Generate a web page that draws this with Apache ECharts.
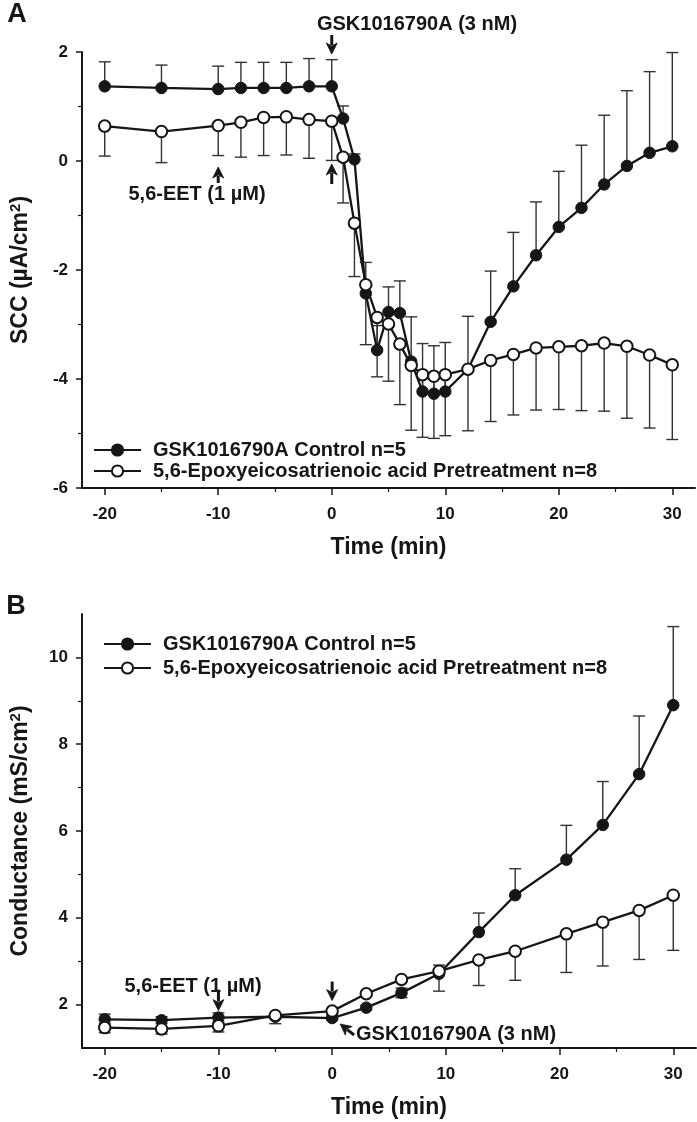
<!DOCTYPE html>
<html><head><meta charset="utf-8">
<script src="https://cdn.jsdelivr.net/npm/echarts@6/dist/echarts.min.js"></script>
<style>html,body{margin:0;padding:0;background:#fff}#c{width:697px;height:1122px}</style>
</head><body><div id="c"></div>
<script>
// ---------- Data ----------
const seriesNames = ['GSK1016790A Control n=5', '5,6-Epoxyeicosatrienoic acid Pretreatment n=8'];

// Panel A: short-circuit current
const timeA = [-20,-15,-10,-8,-6,-4,-2,0,1,2,3,4,5,6,7,8,9,10,12,14,16,18,20,22,24,26,28,30];
const sccControl = [1.37,1.34,1.32,1.34,1.34,1.34,1.37,1.37,0.78,0.03,-2.43,-3.47,-2.77,-2.79,-3.68,-4.23,-4.27,-4.23,-3.82,-2.95,-2.30,-1.73,-1.21,-0.86,-0.43,-0.09,0.15,0.27];
const sccControlErr = [0.45,0.42,0.42,0.47,0.47,0.47,0.51,0.49,0.23,0.10,0.57,0.45,0.46,0.59,0.82,0.88,0.88,0.90,0.97,0.93,0.99,0.98,1.02,1.15,1.27,1.38,1.49,1.72];
const sccEet = [0.64,0.54,0.65,0.71,0.80,0.81,0.76,0.73,0.07,-1.14,-2.27,-2.87,-2.99,-3.36,-3.75,-3.92,-3.95,-3.92,-3.82,-3.66,-3.55,-3.43,-3.41,-3.39,-3.34,-3.40,-3.56,-3.74];
const sccEetErr = [0.55,0.57,0.55,0.64,0.70,0.70,0.71,0.72,0.84,0.98,1.10,1.09,1.05,1.11,1.19,1.15,1.14,1.12,1.13,1.12,1.11,1.14,1.15,1.19,1.25,1.32,1.34,1.37];

// Panel B: conductance
const timeB = [-20,-15,-10,-5,0,3,6.1,9.4,12.9,16.1,20.6,23.8,27,30];
const gControl = [1.66,1.64,1.70,1.72,1.69,1.93,2.27,2.71,3.67,4.52,5.34,6.14,7.31,8.90];
const gControlErrUp = [0.12,0.08,0.11,0.05,0.05,0.05,0.11,0.20,0.44,0.61,0.79,1.00,1.34,1.81];
const gControlErrDown = [0.10,0.08,0.10,0.05,0.05,0.05,0.11,0,0,0,0,0,0,0];
const gEet = [1.47,1.44,1.51,1.75,1.85,2.25,2.58,2.77,3.03,3.23,3.63,3.90,4.17,4.52];
const gEetErrDown = [0.12,0.12,0.14,0.19,0.05,0.05,0.05,0.46,0.59,0.67,0.89,1.01,1.13,1.27];

// Axis ticks
const xTicks = [-20,-10,0,10,20,30];
const xMinorTicks = [-15,-5,5,15,25];
const yTicksA = [-6,-4,-2,0,2];
const yMinorTicksA = [-5,-3,-1,1];
const yTicksB = [2,4,6,8,10];
const yMinorTicksB = [3,5,7,9];

// ---------- Styles ----------
const INK = '#161616';
const FONT = "'Liberation Sans', Arial, Helvetica, sans-serif";
const NARROW = "'Liberation Sans Narrow', 'Liberation Sans', Arial, sans-serif";

const chart = echarts.init(document.getElementById('c'), null, {renderer: 'canvas'});

function xMajor(grid) {
  return {
    type: 'value', gridIndex: grid, min: -22, max: 32, position: 'bottom',
    name: 'Time (min)', nameLocation: 'middle', nameGap: 48,
    nameTextStyle: {fontFamily: FONT, fontWeight: 'bold', fontSize: 23, color: INK},
    axisLine: {show: true, onZero: false, lineStyle: {color: INK, width: 2}},
    axisTick: {show: true, customValues: xTicks, length: 7, lineStyle: {color: INK, width: 1.5}},
    axisLabel: {show: true, customValues: xTicks, margin: 18, fontFamily: NARROW, fontWeight: 'bold', fontSize: 17, color: INK},
    splitLine: {show: false}
  };
}
function xMinor(grid) {
  return {
    type: 'value', gridIndex: grid, min: -22, max: 32, position: 'bottom', offset: 0,
    axisLine: {show: false, onZero: false},
    axisTick: {show: true, customValues: xMinorTicks, length: 4, lineStyle: {color: INK, width: 1.2}},
    axisLabel: {show: false}, splitLine: {show: false}
  };
}
function yMajor(grid, min, max, ticks, name) {
  return {
    type: 'value', gridIndex: grid, min: min, max: max, position: 'left',
    name: name, nameLocation: 'middle', nameGap: 49, nameRotate: 90,
    nameTextStyle: {
      fontFamily: FONT, fontWeight: 'bold', fontSize: 23, color: INK,
      rich: {
        t: {fontFamily: FONT, fontWeight: 'bold', fontSize: 23, color: INK},
        s: {fontFamily: FONT, fontWeight: 'bold', fontSize: 15, color: INK, verticalAlign: 'top', padding: [0,0,10,0]}
      }
    },
    axisLine: {show: true, onZero: false, lineStyle: {color: INK, width: 2}},
    axisTick: {show: true, customValues: ticks, length: 6, lineStyle: {color: INK, width: 1.5}},
    axisLabel: {show: true, customValues: ticks, margin: 14, fontFamily: NARROW, fontWeight: 'bold', fontSize: 17, color: INK},
    splitLine: {show: false}
  };
}
function yMinor(grid, min, max, ticks) {
  return {
    type: 'value', gridIndex: grid, min: min, max: max, position: 'left', offset: 0,
    axisLine: {show: false, onZero: false},
    axisTick: {show: true, customValues: ticks, length: 4, lineStyle: {color: INK, width: 1.2}},
    axisLabel: {show: false}, splitLine: {show: false}
  };
}

function errorBars(xIdx, yIdx, times, mean, up, down) {
  return {
    type: 'custom', xAxisIndex: xIdx, yAxisIndex: yIdx, z: 2, silent: true,
    data: times.map((t, i) => [t, mean[i] - down[i], mean[i] + up[i], up[i] > 0 ? 1 : 0, down[i] > 0 ? 1 : 0]),
    renderItem: function (params, api) {
      const x = api.value(0);
      const lo = api.coord([x, api.value(1)]);
      const hi = api.coord([x, api.value(2)]);
      const cw = 6;
      const style = {stroke: '#333333', lineWidth: 1.4};
      const children = [{type: 'line', shape: {x1: lo[0], y1: lo[1], x2: hi[0], y2: hi[1]}, style: style}];
      if (api.value(3)) children.push({type: 'line', shape: {x1: hi[0] - cw, y1: hi[1], x2: hi[0] + cw, y2: hi[1]}, style: style});
      if (api.value(4)) children.push({type: 'line', shape: {x1: lo[0] - cw, y1: lo[1], x2: lo[0] + cw, y2: lo[1]}, style: style});
      return {type: 'group', children: children};
    }
  };
}

function lineSeries(name, xIdx, yIdx, times, vals, filled) {
  return {
    type: 'line', name: name, xAxisIndex: xIdx, yAxisIndex: yIdx, z: filled ? 3 : 4,
    data: times.map((t, i) => [t, vals[i]]),
    symbol: 'circle', symbolSize: 11.5,
    itemStyle: filled ? {color: INK, borderColor: INK, borderWidth: 1} : {color: '#ffffff', borderColor: INK, borderWidth: 2},
    lineStyle: {color: INK, width: 2.3},
    clip: false
  };
}

function legend(left, top, gap) {
  return {
    data: seriesNames, orient: 'vertical', left: left, top: top,
    itemWidth: 47, itemHeight: 14, itemGap: gap, selectedMode: false,
    textStyle: {fontFamily: FONT, fontWeight: 'bold', fontSize: 20, color: INK, lineHeight: 20, padding: [0, 0, 0, 7]}
  };
}

chart.setOption({
  animation: false,
  backgroundColor: '#ffffff',
  grid: [
    {left: 74, right: 2, top: 52, height: 436},
    {left: 78, right: 1, top: 614, height: 434}
  ],
  xAxis: [xMajor(0), xMinor(0), xMajor(1), xMinor(1)],
  yAxis: [
    yMajor(0, -6, 2, yTicksA, '{t|SCC (\u00b5A/cm}{s|2}{t|)}'),
    yMinor(0, -6, 2, yMinorTicksA),
    yMajor(1, 1, 11, yTicksB, '{t|Conductance (mS/cm}{s|2}{t|)}'),
    yMinor(1, 1, 11, yMinorTicksB)
  ],
  legend: [legend(88, 435, 1), legend(98, 629, 4)],
  series: [
    errorBars(0, 0, timeA, sccControl, sccControlErr, timeA.map(() => 0)),
    errorBars(0, 0, timeA, sccEet, timeA.map(() => 0), sccEetErr),
    lineSeries(seriesNames[0], 0, 0, timeA, sccControl, true),
    lineSeries(seriesNames[1], 0, 0, timeA, sccEet, false),
    errorBars(2, 2, timeB, gControl, gControlErrUp, gControlErrDown),
    errorBars(2, 2, timeB, gEet, timeB.map(() => 0), gEetErrDown),
    lineSeries(seriesNames[0], 2, 2, timeB, gControl, true),
    lineSeries(seriesNames[1], 2, 2, timeB, gEet, false)
  ]
});

// ---------- Annotations ----------
function px(grid, t, v) {
  return chart.convertToPixel({xAxisIndex: grid === 0 ? 0 : 2, yAxisIndex: grid === 0 ? 0 : 2}, [t, v]);
}
function arrow(x1, y1, x2, y2) {
  const a = Math.atan2(y2 - y1, x2 - x1), L = 11, W = 5.5;
  const c = Math.cos(a), s = Math.sin(a);
  const bx = x2 - L * c, by = y2 - L * s;
  return [
    {type: 'line', shape: {x1: x1, y1: y1, x2: bx + 2 * c, y2: by + 2 * s}, style: {stroke: INK, lineWidth: 3}, z: 10},
    {type: 'polygon', shape: {points: [[x2, y2], [bx + W * s, by - W * c], [bx + 3 * c, by + 3 * s], [bx - W * s, by + W * c]]}, style: {fill: INK, stroke: INK, lineWidth: 0.8}, z: 10}
  ];
}
function label(text, x, y, align) {
  return {type: 'text', x: x, y: y, z: 10,
    style: {text: text, fontFamily: FONT, fontWeight: 'bold', fontSize: 20, fill: INK, align: align || 'center', verticalAlign: 'middle'}};
}

const a0 = px(0, 0, 2), a1 = px(0, 0, 0), a2 = px(0, -10, 0);
const b0 = px(1, -10, 2), b1 = px(1, 0, 2), b2 = px(1, 0, 1.69);

const graphics = [
  {type: 'text', x: 17, y: 15, z: 10, style: {text: 'A', fontFamily: FONT, fontWeight: 'bold', fontSize: 27, fill: INK, align: 'center', verticalAlign: 'middle'}},
  {type: 'text', x: 16, y: 607, z: 10, style: {text: 'B', fontFamily: FONT, fontWeight: 'bold', fontSize: 27, fill: INK, align: 'center', verticalAlign: 'middle'}},
  label('GSK1016790A (3 nM)', 417, 24),
  label('5,6-EET (1 \u00b5M)', 197, 194),
  label('5,6-EET (1 \u00b5M)', 193, 986),
  label('GSK1016790A (3 nM)', 356, 1034, 'left')
]
.concat(arrow(a0[0], a0[1] - 17, a0[0], a0[1] + 2))
.concat(arrow(a1[0], a1[1] + 23, a1[0], a1[1] + 3))
.concat(arrow(a2[0], a2[1] + 22, a2[0], a2[1] + 6))
.concat(arrow(b0[0], b0[1] - 15, b0[0], b0[1] + 6))
.concat(arrow(b1[0], b1[1] - 23, b1[0], b1[1] - 4))
.concat(arrow(b2[0] + 22, b2[1] + 17, b2[0] + 8, b2[1] + 6));

chart.setOption({graphic: graphics});
</script>
</body></html>
